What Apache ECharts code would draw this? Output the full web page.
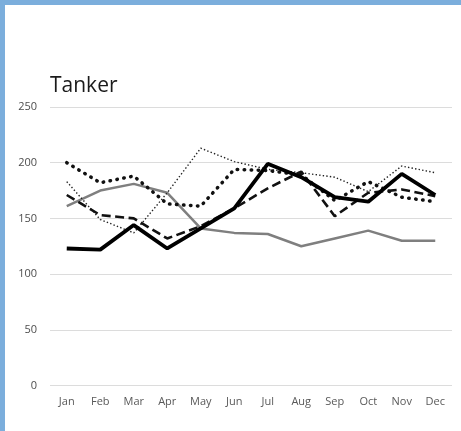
<!DOCTYPE html>
<html>
<head>
<meta charset="utf-8">
<script src="https://cdn.jsdelivr.net/npm/echarts@6/dist/echarts.min.js"></script>
<style>
  html, body { margin: 0; padding: 0; background: #fff; }
  .frame {
    width: 456px;
    height: 426px;
    border-left: 5px solid #7baedc;
    border-top: 5px solid #7baedc;
  }
  #chart { width: 456px; height: 426px; }
</style>
</head>
<body>
<div class="frame"><div id="chart"></div></div>
<script>
const months = ['Jan', 'Feb', 'Mar', 'Apr', 'May', 'Jun', 'Jul', 'Aug', 'Sep', 'Oct', 'Nov', 'Dec']

// five unnamed series
const thickSolid = [123, 122, 144, 123, 141, 159, 199, 187, 169, 165, 190, 171]
const graySolid = [161, 175, 181, 173, 141, 137, 136, 125, 132, 139, 130, 130]
const dashed = [171, 153, 150, 132, 143, 159, 177, 192, 152, 173, 176, 170]
const roundDots = [200, 182, 188, 163, 161, 194, 193, 189, 166, 183, 169, 165]
const thinDots = [183, 149, 137, 173, 213, 201, 194, 191, 187, 174, 197, 191]

const chart = echarts.init(document.getElementById('chart'))

function line(data, lineStyle, z) {
  return {
    type: 'line',
    data,
    symbol: 'none',
    animation: false,
    z,
    lineStyle
  }
}

chart.setOption({
  backgroundColor: '#fff',
  title: {
    text: 'Tanker',
    left: 40,
    top: 66,
    textStyle: { color: '#1a1a1a', fontSize: 21, fontWeight: 'normal', fontFamily: 'Open Sans' }
  },
  grid: {
    left: 45,
    right: 9,
    top: 102,
    bottom: 45.5
  },
  xAxis: {
    type: 'category',
    data: months,
    boundaryGap: true,
    axisLine: { show: false },
    axisTick: { show: false },
    axisLabel: { color: '#595959', fontSize: 11, margin: 11, fontFamily: 'Open Sans' }
  },
  yAxis: {
    type: 'value',
    min: 0,
    max: 250,
    interval: 50,
    axisLine: { show: false },
    axisTick: { show: false },
    axisLabel: { color: '#4d4d4d', fontSize: 11, margin: 13, fontFamily: 'Open Sans' },
    splitLine: { lineStyle: { color: '#dcdcdc', width: 1 } }
  },
  series: [
    line(graySolid, { color: '#7f7f7f', width: 2.5 }, 2),
    line(thinDots, { color: '#222', width: 1.4, type: [1.4, 2.2] }, 3),
    line(roundDots, { color: '#111', width: 3.5, type: [0.5, 6.5], cap: 'round' }, 4),
    line(dashed, { color: '#111', width: 2.6, type: [9, 4.5] }, 5),
    line(thickSolid, { color: '#000', width: 3.8 }, 6)
  ]
})
</script>
</body>
</html>
